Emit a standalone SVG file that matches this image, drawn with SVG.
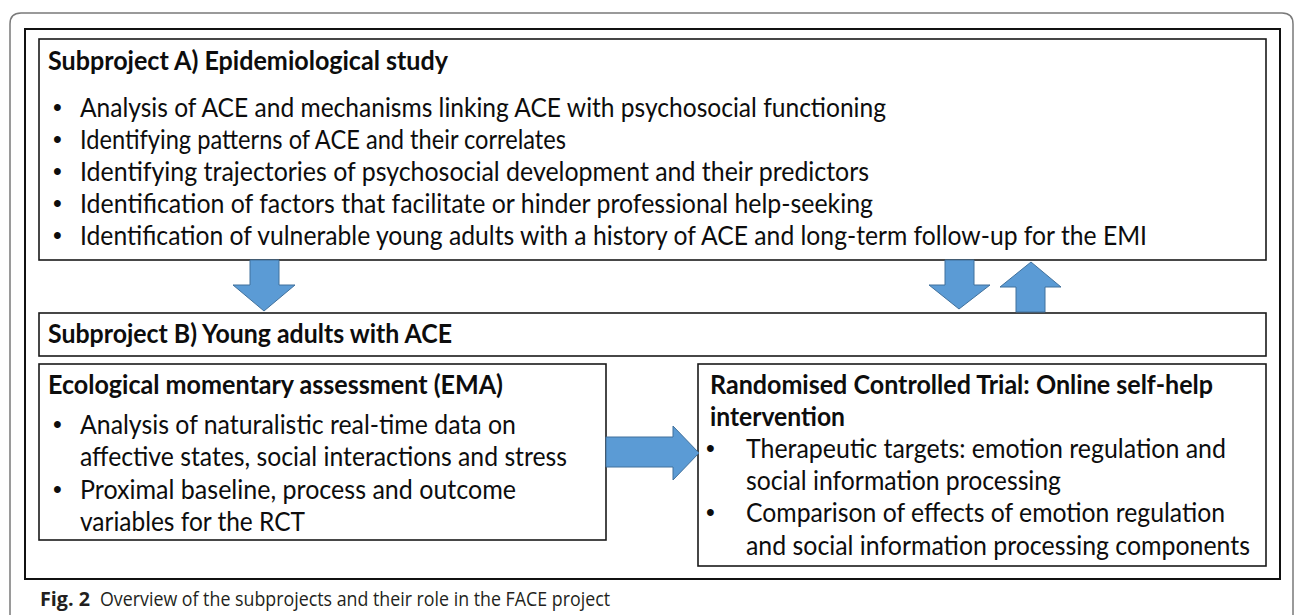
<svg xmlns="http://www.w3.org/2000/svg" width="1295" height="615" viewBox="0 0 1295 615">
<style>
.box{fill:#fff;stroke:#1a1a1a;stroke-width:1.6}
.t{font-family:Lato,"Open Sans","Liberation Sans",sans-serif;font-size:26.5px;fill:#0d0d0d}
.b{font-weight:bold}
.bu{font-family:"Liberation Sans",sans-serif;font-size:25px;fill:#0d0d0d}
.arr{fill:#5B9BD5;stroke:#41719C;stroke-width:1}
.cap{font-family:"Open Sans","Liberation Sans",sans-serif;font-size:20px;fill:#231f20}
</style>
<rect width="1295" height="615" fill="#fff"/>
<path d="M10,615 V24 Q10,13 21,13 H1282 Q1293,13 1293,24 V615" fill="none" stroke="#7a7a7a" stroke-width="1.5"/>
<g id="figure-frame">
<rect x="25" y="29" width="1255" height="550" fill="#fff" stroke="#111" stroke-width="2"/>
</g>
<g id="nodeA">
<rect class="box" x="39" y="39" width="1227" height="221"/>
<text class="t b" x="48" y="70" textLength="400" lengthAdjust="spacingAndGlyphs">Subproject A) Epidemiological study</text>
<text class="bu" x="53" y="116">•</text>
<text class="t" x="80" y="117" textLength="806" lengthAdjust="spacingAndGlyphs">Analysis of ACE and mechanisms linking ACE with psychosocial functioning</text>
<text class="bu" x="53" y="148">•</text>
<text class="t" x="80" y="149" textLength="486" lengthAdjust="spacingAndGlyphs">Identifying patterns of ACE and their correlates</text>
<text class="bu" x="53" y="180">•</text>
<text class="t" x="80" y="181" textLength="789" lengthAdjust="spacingAndGlyphs">Identifying trajectories of psychosocial development and their predictors</text>
<text class="bu" x="53" y="212">•</text>
<text class="t" x="80" y="213" textLength="793" lengthAdjust="spacingAndGlyphs">Identification of factors that facilitate or hinder professional help-seeking</text>
<text class="bu" x="53" y="244">•</text>
<text class="t" x="80" y="245" textLength="1067" lengthAdjust="spacingAndGlyphs">Identification of vulnerable young adults with a history of ACE and long-term follow-up for the EMI</text>
</g>
<g id="nodeB">
<rect class="box" x="39" y="313" width="1227" height="43"/>
<text class="t b" x="48" y="343" textLength="404" lengthAdjust="spacingAndGlyphs">Subproject B) Young adults with ACE</text>
</g>
<g id="nodeEMA">
<rect class="box" x="39" y="364" width="567" height="176"/>
<text class="t b" x="48" y="394" textLength="455" lengthAdjust="spacingAndGlyphs">Ecological momentary assessment (EMA)</text>
<text class="bu" x="53" y="433">•</text>
<text class="t" x="80" y="434" textLength="436" lengthAdjust="spacingAndGlyphs">Analysis of naturalistic real-time data on</text>
<text class="t" x="80" y="466" textLength="487" lengthAdjust="spacingAndGlyphs">affective states, social interactions and stress</text>
<text class="bu" x="53" y="498">•</text>
<text class="t" x="80" y="499" textLength="436" lengthAdjust="spacingAndGlyphs">Proximal baseline, process and outcome</text>
<text class="t" x="80" y="531" textLength="225" lengthAdjust="spacingAndGlyphs">variables for the RCT</text>
</g>
<g id="nodeRCT">
<rect class="box" x="698" y="364" width="568" height="202"/>
<text class="t b" x="710" y="394" textLength="503" lengthAdjust="spacingAndGlyphs">Randomised Controlled Trial: Online self-help</text>
<text class="t b" x="710" y="426" textLength="135" lengthAdjust="spacingAndGlyphs">intervention</text>
<text class="bu" x="706" y="457">•</text>
<text class="t" x="746" y="458" textLength="480" lengthAdjust="spacingAndGlyphs">Therapeutic targets: emotion regulation and</text>
<text class="t" x="746" y="490" textLength="315" lengthAdjust="spacingAndGlyphs">social information processing</text>
<text class="bu" x="706" y="521">•</text>
<text class="t" x="746" y="522" textLength="479" lengthAdjust="spacingAndGlyphs">Comparison of effects of emotion regulation</text>
<text class="t" x="746" y="555" textLength="504" lengthAdjust="spacingAndGlyphs">and social information processing components</text>
</g>
<g id="connectors">
<polygon class="arr" points="250,260 279,260 279,285 295,285 264,311 233,285 250,285"/>
<polygon class="arr" points="945,260 974,260 974,285 990,285 959,309 929,285 945,285"/>
<polygon class="arr" points="1016,312 1045,312 1045,287 1061,287 1031,262 1000,287 1016,287"/>
<polygon class="arr" points="606,437 673,437 673,426 699,453 673,480 673,467 606,467"/>
</g>
<g id="caption">
<text class="cap" x="40" y="606"><tspan font-weight="bold" textLength="50" lengthAdjust="spacingAndGlyphs">Fig. 2</tspan></text>
<text class="cap" x="100" y="606" textLength="510" lengthAdjust="spacingAndGlyphs">Overview of the subprojects and their role in the FACE project</text>
</g>
</svg>
